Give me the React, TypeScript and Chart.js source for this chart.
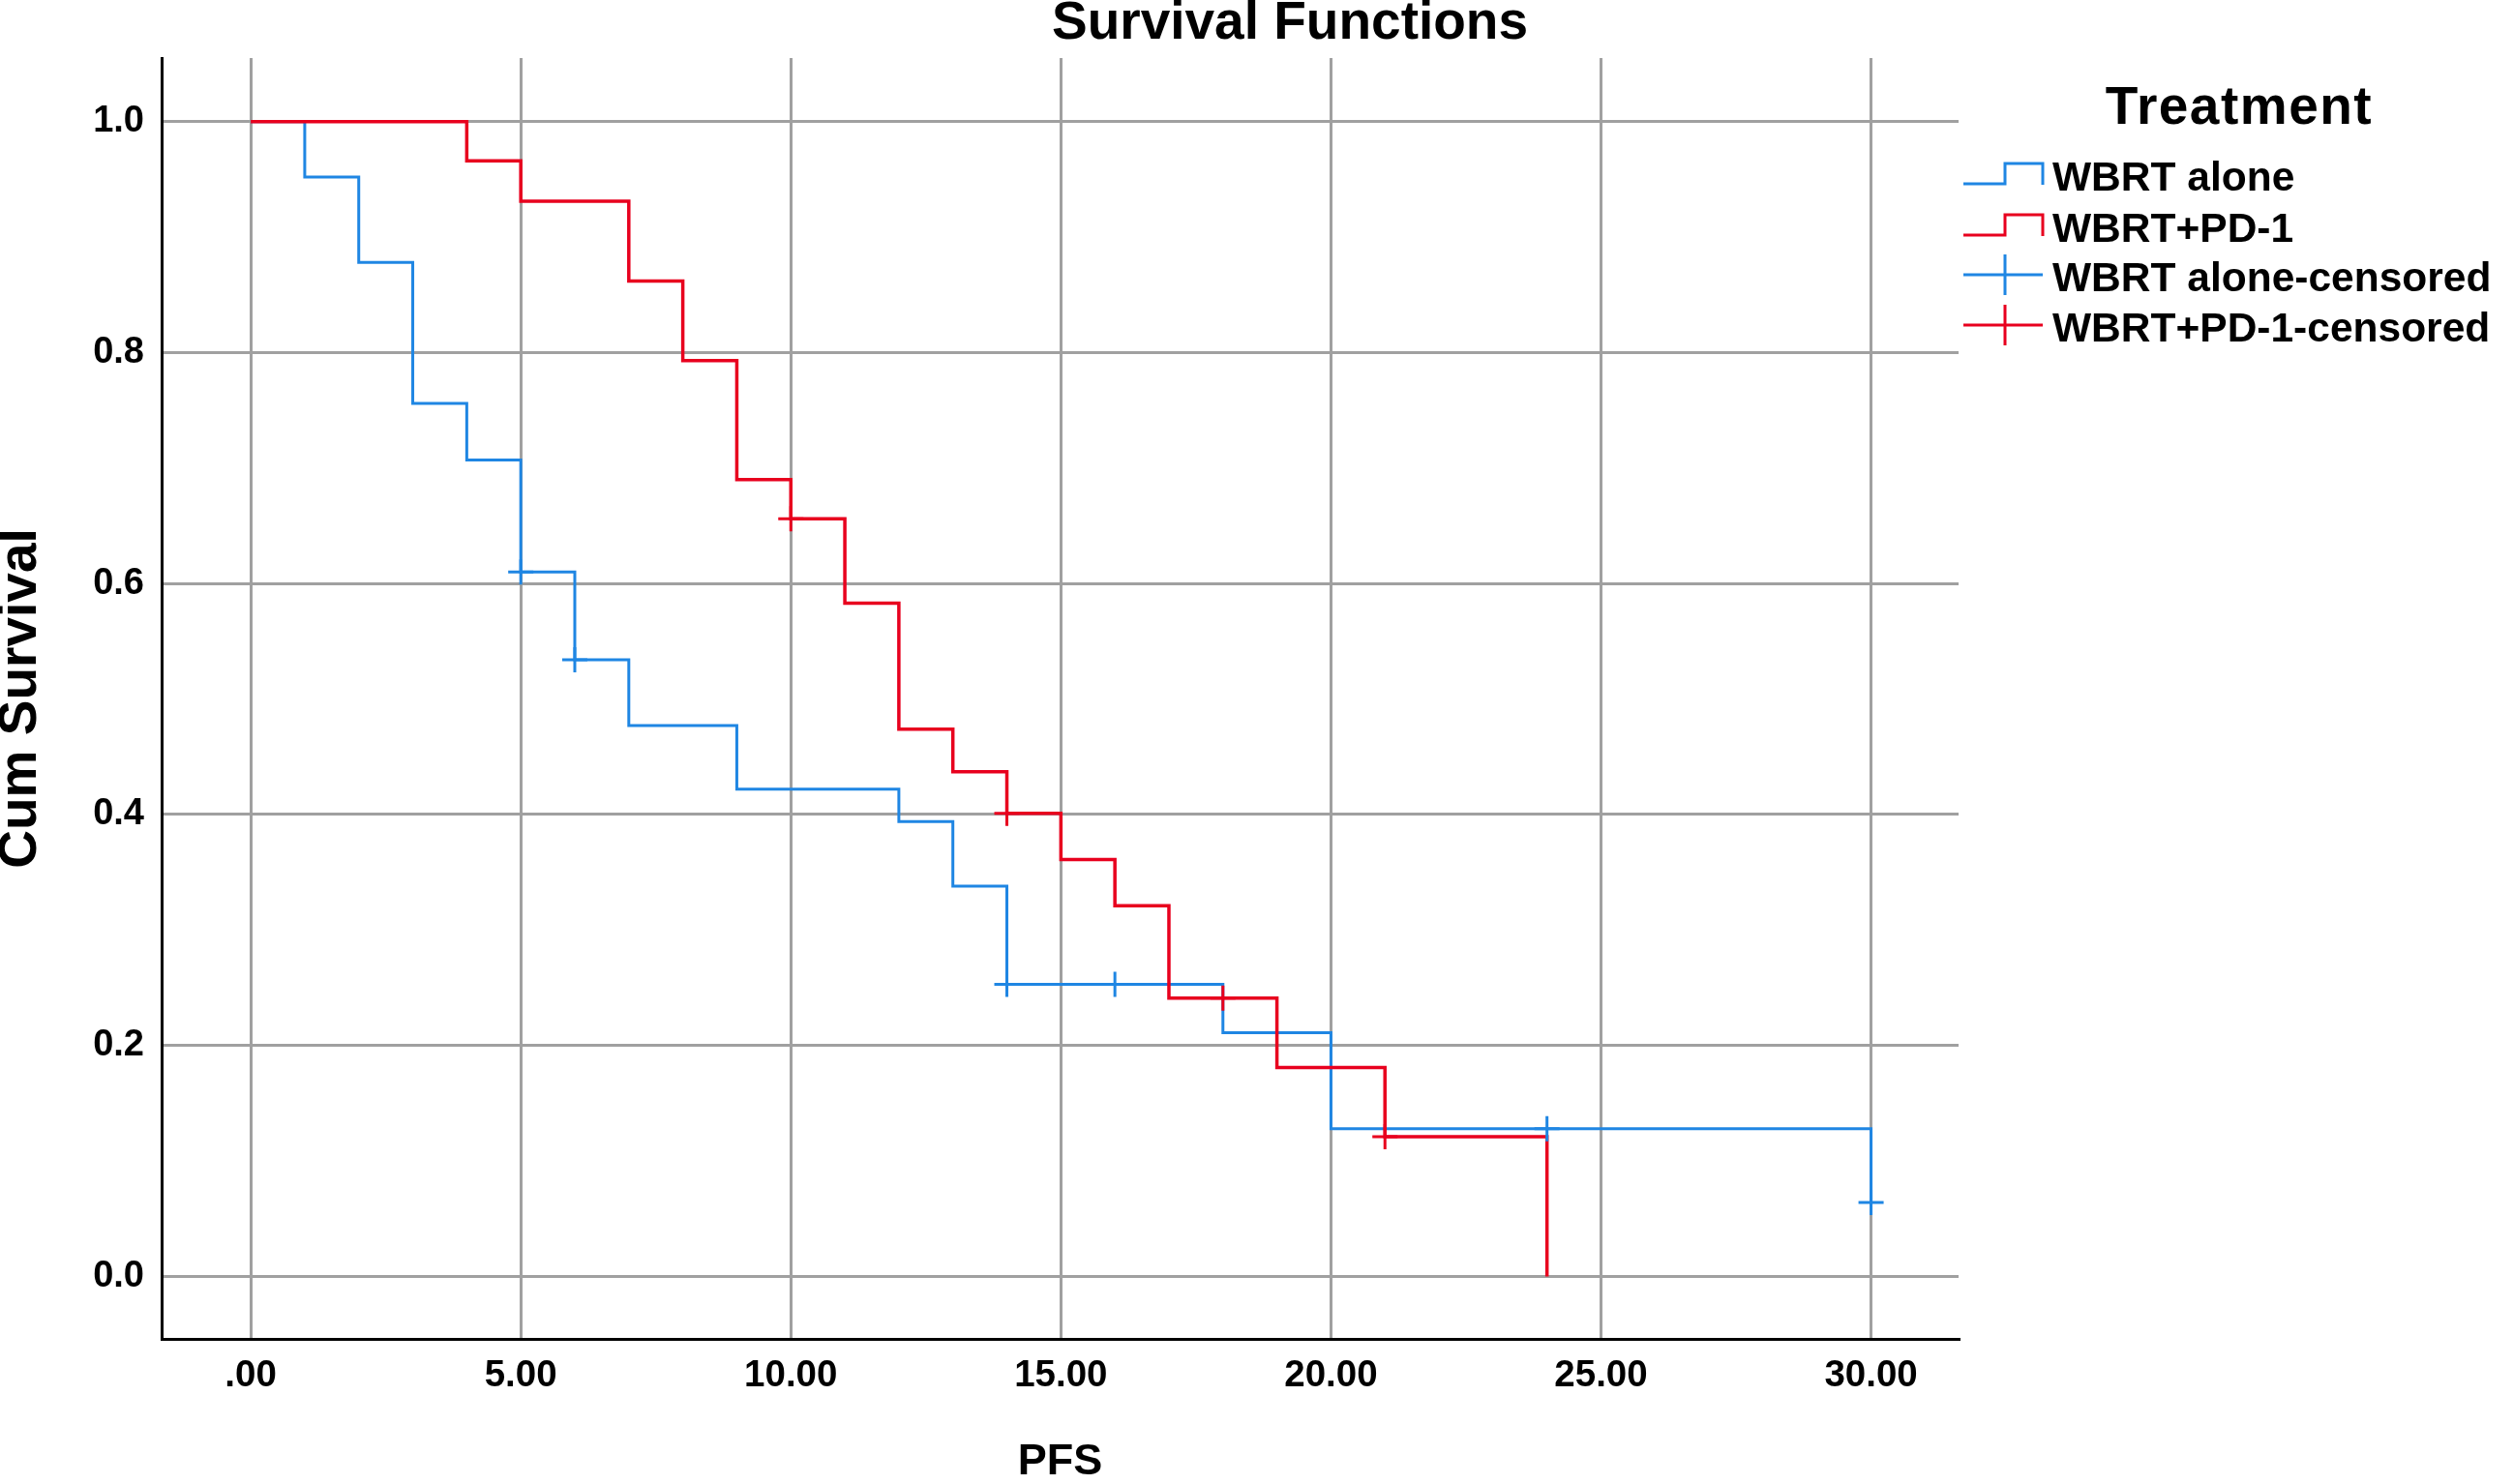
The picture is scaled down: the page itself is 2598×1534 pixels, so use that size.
import React, { useEffect, useRef } from 'react';
import Chart from 'chart.js/auto';

// Kaplan-Meier steps (time, cumulative survival)
const aloneTimes = [0, 1, 2, 3, 4, 5, 6, 7, 9, 12, 13, 14, 18, 20, 30];
const aloneSurv = [1, 0.952, 0.878, 0.756, 0.707, 0.61, 0.534, 0.477, 0.422, 0.394, 0.338, 0.253, 0.211, 0.128, 0.064];
const pd1Times = [0, 4, 5, 7, 8, 9, 10, 11, 12, 13, 14, 15, 16, 17, 19, 21, 24];
const pd1Surv = [1, 0.966, 0.931, 0.862, 0.793, 0.69, 0.656, 0.583, 0.474, 0.437, 0.401, 0.361, 0.321, 0.241, 0.181, 0.121, 0];

// censored observations
const aloneCensTimes = [5, 6, 14, 16, 24, 30];
const aloneCensSurv = [0.61, 0.534, 0.253, 0.253, 0.128, 0.064];
const pd1CensTimes = [10, 14, 18, 21];
const pd1CensSurv = [0.656, 0.401, 0.241, 0.121];

const xTicks = [0, 5, 10, 15, 20, 25, 30];
const yTicks = [0, 0.2, 0.4, 0.6, 0.8, 1.0];

const legendTitle = 'Treatment';
const legendLabels = ['WBRT alone', 'WBRT+PD-1', 'WBRT alone-censored', 'WBRT+PD-1-censored'];

const BLUE = '#1f86e3';
const RED = '#e8001e';
const FONT = "'Liberation Sans', Arial, sans-serif";

const toPoints = (xs: number[], ys: number[]) => xs.map((x, i) => ({ x, y: ys[i] }));

// title and the SPSS-style legend on the right
const decorations = {
  id: 'decorations',
  afterDraw(chart: Chart) {
    const ctx = chart.ctx;
    ctx.save();
    ctx.fillStyle = '#000';
    ctx.textBaseline = 'alphabetic';

    ctx.font = `bold 55px ${FONT}`;
    ctx.textAlign = 'center';
    ctx.fillText('Survival Functions', 1333, 40);

    (ctx as any).letterSpacing = '1.5px';
    ctx.fillText(legendTitle, 2314, 128);
    (ctx as any).letterSpacing = '0px';

    const centers = [182, 235, 286, 338];
    const colors = [BLUE, RED, BLUE, RED];
    ctx.font = `bold 42.5px ${FONT}`;
    ctx.textAlign = 'left';
    legendLabels.forEach((label, i) => {
      const c = centers[i];
      ctx.strokeStyle = colors[i];
      ctx.lineWidth = 3;
      ctx.beginPath();
      if (i < 2) {
        ctx.moveTo(2029, c + 8);
        ctx.lineTo(2072, c + 8);
        ctx.lineTo(2072, c - 13);
        ctx.lineTo(2111, c - 13);
        ctx.lineTo(2111, c + 9);
      } else {
        ctx.moveTo(2029, c - 2);
        ctx.lineTo(2111, c - 2);
        ctx.moveTo(2072, c - 23);
        ctx.lineTo(2072, c + 19);
      }
      ctx.stroke();
      ctx.fillText(label, 2121, c + 15);
    });
    ctx.restore();
  },
};

const App: React.FC = () => {
  const canvasRef = useRef<HTMLCanvasElement>(null);
  const chartRef = useRef<Chart | null>(null);

  useEffect(() => {
    if (!canvasRef.current) return;
    if (chartRef.current) chartRef.current.destroy();

    chartRef.current = new Chart(canvasRef.current, {
      type: 'line',
      data: {
        datasets: [
          {
            label: legendLabels[3],
            data: toPoints(pd1CensTimes, pd1CensSurv),
            showLine: false,
            pointStyle: 'cross',
            pointRadius: 13,
            pointBorderWidth: 3,
            borderColor: RED,
          },
          {
            label: legendLabels[2],
            data: toPoints(aloneCensTimes, aloneCensSurv),
            showLine: false,
            pointStyle: 'cross',
            pointRadius: 13,
            pointBorderWidth: 3,
            borderColor: BLUE,
          },
          {
            label: legendLabels[1],
            data: toPoints(pd1Times, pd1Surv),
            stepped: 'before',
            borderColor: RED,
            borderWidth: 3.5,
            pointRadius: 0,
            fill: false,
          },
          {
            label: legendLabels[0],
            data: toPoints(aloneTimes, aloneSurv),
            stepped: 'before',
            borderColor: BLUE,
            borderWidth: 3,
            pointRadius: 0,
            fill: false,
          },
        ],
      },
      options: {
        responsive: false,
        animation: false,
        devicePixelRatio: 1,
        layout: { padding: { top: 60, right: 574, left: 0, bottom: 0 } },
        plugins: {
          legend: { display: false },
          tooltip: { enabled: false },
        },
        scales: {
          x: {
            type: 'linear',
            min: -1.65,
            max: 31.62,
            afterBuildTicks: (scale: any) => {
              scale.ticks = xTicks.map((v) => ({ value: v }));
            },
            afterFit: (scale: any) => {
              scale.height = 150;
            },
            grid: { color: '#a0a0a0', lineWidth: 3, drawTicks: false },
            border: { display: true, color: '#000', width: 3 },
            ticks: {
              padding: 15,
              color: '#000',
              font: { family: FONT, size: 38.5, weight: 'bold' },
              callback: (v: any) => (v === 0 ? '.00' : Number(v).toFixed(2)),
            },
            title: {
              display: true,
              text: 'PFS',
              color: '#000',
              font: { family: FONT, size: 45, weight: 'bold', lineHeight: 1 },
              padding: { top: 0, bottom: 0 },
            },
          },
          y: {
            type: 'linear',
            min: -0.054,
            max: 1.055,
            afterBuildTicks: (scale: any) => {
              scale.ticks = yTicks.map((v) => ({ value: v }));
            },
            afterFit: (scale: any) => {
              scale.width = 167;
            },
            grid: { color: '#a0a0a0', lineWidth: 3, drawTicks: false },
            border: { display: true, color: '#000', width: 3 },
            ticks: {
              padding: 18,
              color: '#000',
              font: { family: FONT, size: 38, weight: 'bold' },
              callback: (v: any) => Number(v).toFixed(1),
            },
            title: {
              display: true,
              text: 'Cum Survival',
              color: '#000',
              font: { family: FONT, size: 55, weight: 'bold', lineHeight: 0.8 },
              padding: { top: 0, bottom: 0 },
            },
          },
        },
      },
      plugins: [decorations],
    });

    return () => {
      if (chartRef.current) {
        chartRef.current.destroy();
        chartRef.current = null;
      }
    };
  }, []);

  return (
    <div style={{ position: 'absolute', left: 0, top: 0, width: 2598, height: 1534, background: '#fff' }}>
      <canvas ref={canvasRef} width={2598} height={1534} style={{ width: 2598, height: 1534 }}></canvas>
    </div>
  );
};

export default App;
